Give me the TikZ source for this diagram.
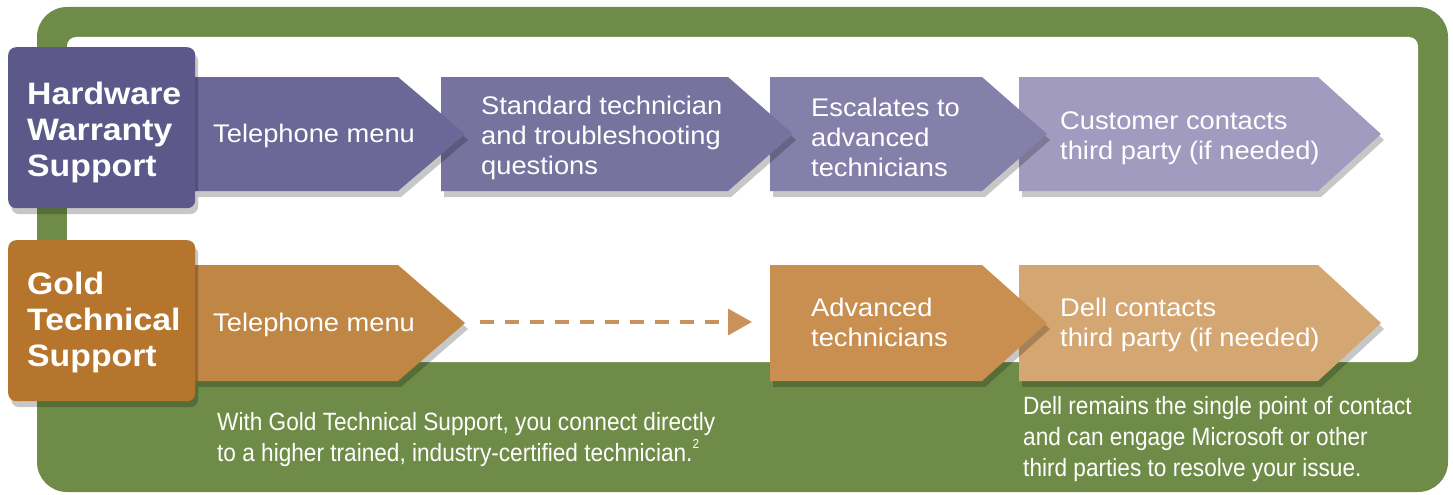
\documentclass[tikz,border=0pt]{standalone}
\usepackage{fontspec}
\setmainfont{Liberation Sans}
\newfontfamily\condfont[FakeStretch=0.905]{Liberation Sans}
\newfontfamily\stepfont[FakeStretch=1.07]{Liberation Sans}
\newfontfamily\titlefont[FakeStretch=1.09]{Liberation Sans}
\usetikzlibrary{shadows,arrows.meta}
\definecolor{grn}{HTML}{6E8C47}
\definecolor{purpT}{HTML}{5C5889}
\definecolor{purpA}{HTML}{6B6796}
\definecolor{purpB}{HTML}{77739F}
\definecolor{purpC}{HTML}{8580AA}
\definecolor{purpD}{HTML}{A09BBF}
\definecolor{goldT}{HTML}{B5752C}
\definecolor{goldA}{HTML}{C08643}
\definecolor{goldC}{HTML}{C98F51}
\definecolor{goldD}{HTML}{D4A672}
\definecolor{dashcol}{HTML}{C9915B}
\newcommand\mychev[6]{% x0, xshoulder, xtip, ytop, ybot, style
  \fill[#6] (#1,#4) -- (#2,#4) -- (#3,{(#4+#5)/2}) -- (#2,#5) -- (#1,#5) -- cycle;}
\tikzset{
  shad/.style={drop shadow={shadow xshift=3pt, shadow yshift=-6pt, opacity=0.22, fill=black}},
  titlebox/.style={rounded corners=8pt, minimum width=187pt, minimum height=161pt,
    inner sep=0pt, anchor=north west, shad},
  titletext/.style={text=white, font=\titlefont\bfseries\fontsize{31}{36}\selectfont, align=left, inner sep=0pt, anchor=west},
  steptext/.style={text=white, font=\stepfont\fontsize{25.5}{30}\selectfont, align=left, inner sep=0pt, anchor=west},
  notetext/.style={text=white, font=\condfont\fontsize{25}{31}\selectfont, align=left, inner sep=0pt, anchor=west},
}
\begin{document}
\begin{tikzpicture}[x=1pt,y=-1pt]
\useasboundingbox (0,0) rectangle (1453,495);
% frame
\fill[grn, rounded corners=30pt] (37,7) rectangle (1448,492);
\fill[white, rounded corners=9pt] (67,37) rectangle (1418,362);
% purple row (drawn right to left)
\mychev{1019}{1318}{1381}{77}{191}{purpD, shad}
\mychev{770}{982}{1047}{77}{191}{purpC, shad}
\mychev{441}{728}{793}{77}{191}{purpB, shad}
\mychev{195}{398}{465}{77}{191}{purpA, shad}
% gold row
\mychev{1019}{1318}{1381}{265}{381}{goldD, shad}
\mychev{770}{982}{1047}{265}{381}{goldC, shad}
\mychev{195}{398}{465}{265}{381}{goldA, shad}
% title boxes
\node[titlebox, fill=purpT] (hw) at (8,47) {};
\node[titlebox, fill=goldT] (gold) at (8,240) {};
\node[titletext] (hwt) at (27,132) {Hardware\\Warranty\\Support};
\node[titletext] (goldt) at (27,322) {Gold\\Technical\\Support};
% step texts
\node[steptext] (p1) at (213,136) {Telephone menu};
\node[steptext] (p2) at (481,138) {Standard technician\\and troubleshooting\\questions};
\node[steptext] (p3) at (811,137) {Escalates to\\advanced\\technicians};
\node[steptext] (p4) at (1060,138) {Customer contacts\\third party (if needed)};
\node[steptext] (g1) at (213,325) {Telephone menu};
\node[steptext] (g3) at (811,322) {Advanced\\technicians};
\node[steptext] (g4) at (1060,325) {Dell contacts\\third party (if needed)};
% dashed connector
\coordinate (g1tip) at (465,322);
\coordinate (g3in) at (770,322);
\draw[dashcol, line width=3.5pt, dash pattern=on 14pt off 11pt, -{Triangle[length=24pt,width=26pt]}]
  ([xshift=15pt]g1tip) -- ([xshift=-18pt]g3in);
% notes
\node[notetext] (n1) at (217,440) {With Gold Technical Support, you connect directly\\to a higher trained, industry-certified technician.\raisebox{0.55em}{\fontsize{13}{13}\selectfont 2}};
\node[notetext] (n2) at (1023,439) {Dell remains the single point of contact\\and can engage Microsoft or other\\third parties to resolve your issue.};
\end{tikzpicture}
\end{document}
